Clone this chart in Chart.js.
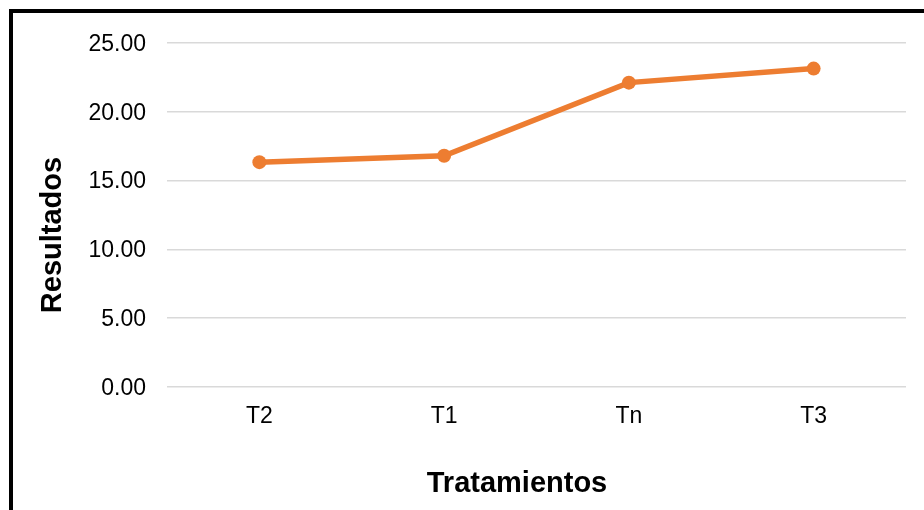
<!DOCTYPE html>
<html>
<head>
<meta charset="utf-8">
<script src="https://cdn.jsdelivr.net/npm/chart.js@4/dist/chart.umd.min.js"></script>
<style>
  html, body { margin: 0; padding: 0; background: #fff; overflow: hidden; }
  #wrap { position: relative; width: 924px; height: 510px; }
</style>
</head>
<body>
<div id="wrap"><canvas id="myChart" width="924" height="510"></canvas></div>
<script>
(() => {
  "use strict";

  const categories = ["T2", "T1", "Tn", "T3"];
  const resultados = [16.34, 16.81, 22.12, 23.14];
  const yTicks = [0, 5, 10, 15, 20, 25];

  const FONT = "'Liberation Sans', Arial, sans-serif";

  // white background, black frame and both axis titles
  const frame = {
    id: "frame",
    beforeDraw(chart) {
      const c = chart.ctx;
      c.save();
      c.fillStyle = "#fff";
      c.fillRect(0, 0, chart.width, chart.height);
      c.restore();
    },
    afterDraw(chart) {
      const c = chart.ctx;
      c.save();
      c.strokeStyle = "#000";
      c.lineWidth = 4;
      c.strokeRect(11, 11, 2000, 2000);

      c.fillStyle = "#000";
      c.font = "bold 29px " + FONT;
      c.textAlign = "center";
      c.textBaseline = "middle";
      c.fillText("Tratamientos", 517, 484);

      c.translate(53, 235);
      c.rotate(-Math.PI / 2);
      c.fillText("Resultados", 0, 0);
      c.restore();
    },
  };

  const ctx = document.getElementById("myChart");
  // eslint-disable-next-line no-unused-vars
  const myChart = new Chart(ctx, {
    type: "line",
    data: {
      labels: categories,
      datasets: [
        {
          data: resultados,
          borderColor: "#ED7D31",
          backgroundColor: "#ED7D31",
          borderWidth: 5.5,
          pointRadius: 7,
          pointHoverRadius: 7,
          pointBackgroundColor: "#ED7D31",
          pointBorderWidth: 0,
          tension: 0,
        },
      ],
    },
    options: {
      responsive: false,
      animation: false,
      layout: {
        padding: { left: 0, right: 18, top: 43, bottom: 0 },
      },
      plugins: {
        legend: { display: false },
        tooltip: { enabled: false },
      },
      scales: {
        x: {
          offset: true,
          grid: { display: false, drawTicks: false },
          border: { display: false },
          ticks: {
            color: "#000",
            padding: 16,
            font: { family: FONT, size: 23 },
          },
          afterFit(scale) {
            scale.height = 123;
          },
        },
        y: {
          min: 0,
          max: 25,
          afterBuildTicks(scale) {
            scale.ticks = yTicks.map((v) => ({ value: v }));
          },
          grid: {
            color: "#d9d9d9",
            lineWidth: 1.5,
            drawTicks: false,
          },
          border: { display: false },
          ticks: {
            color: "#000",
            padding: 21,
            labelOffset: 1.5,
            font: { family: FONT, size: 23 },
            callback: (v) => Number(v).toFixed(2),
          },
          afterFit(scale) {
            scale.width = 167;
          },
        },
      },
    },
    plugins: [frame],
  });
})();
</script>
</body>
</html>
